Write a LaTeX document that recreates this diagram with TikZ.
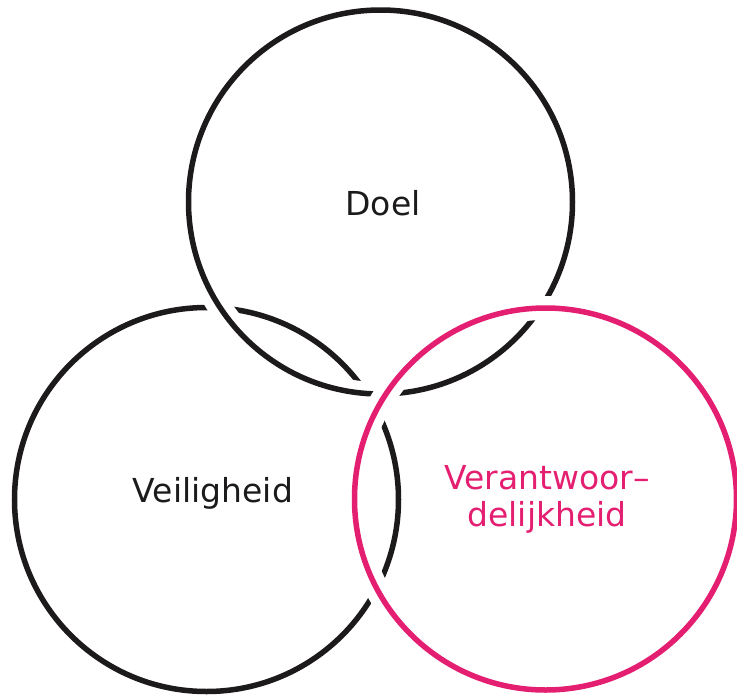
\documentclass[tikz,border=0pt]{standalone}
\usepackage{fontspec}
\setmainfont{DejaVu Sans}
\definecolor{ringblack}{RGB}{28,26,27}
\definecolor{ringpink}{RGB}{228,30,112}

\begin{document}
\begin{tikzpicture}[x=1pt, y=-1pt,
  ring/.style={circle, draw=ringblack, line width=5.5pt, minimum size=384pt, inner sep=0pt,
    preaction={draw=white, line width=24pt}},
  pinkring/.style={ring, draw=ringpink, minimum size=382pt},
  ringtext/.style={font=\fontsize{33}{37}\selectfont, text=ringblack, align=center}
]
\useasboundingbox (0,0) rectangle (737,697);
% rings, drawn bottom to top
\node[ring] (veilig) at (206.5,499.5) {};
\node[ring] (doel) at (380.5,202) {};
\node[pinkring] (verant) at (545.5,499) {};
% texts
\node[ringtext] (tdoel) at (383,203) {Doel};
\node[ringtext] (tveilig) at (213,493) {Veiligheid};
\node[ringtext, text=ringpink] (tverant) at (547,499) {Verantwoor–\\delijkheid};
\end{tikzpicture}
\end{document}
